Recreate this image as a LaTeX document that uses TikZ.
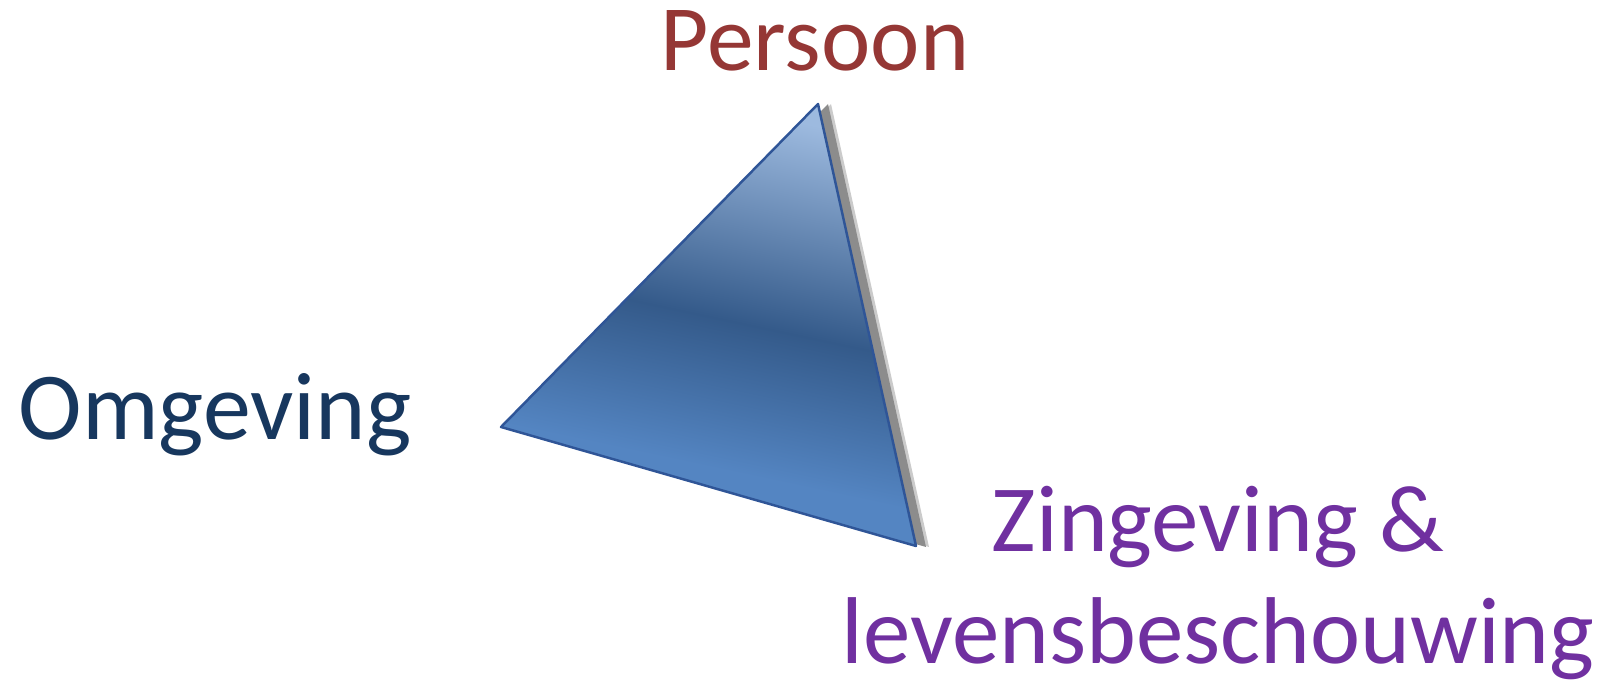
\documentclass[tikz,border=0pt]{standalone}
\usepackage{fontspec}
\setmainfont{Carlito}
\usepackage{xcolor}
\usepackage{tikz}
\usetikzlibrary{positioning,calc}
\definecolor{brickred}{HTML}{953735}
\definecolor{navytext}{HTML}{17375E}
\definecolor{plum}{HTML}{7030A0}
\definecolor{edgeblue}{HTML}{2F5597}
\definecolor{lightblue}{HTML}{9DBADF}
\definecolor{deepblue}{HTML}{345A8A}
\definecolor{midblue}{HTML}{5485C2}
\definecolor{shadowgrey}{HTML}{8C8C8C}
\pgfdeclareverticalshading{trishade}{100bp}{color(0bp)=(midblue); color(34bp)=(midblue);
  color(51bp)=(deepblue); color(75bp)=(lightblue); color(100bp)=(lightblue)}
\tikzset{
    every picture/.style={line cap=round,line join=round},
    cornerlabel/.style={inner sep=0pt,outer sep=0pt,anchor=base,align=center},
    triface/.style={shading=trishade,shading angle=-12},
    triedge/.style={draw=edgeblue,line width=0.7pt},
    trishadow/.style={fill=shadowgrey,draw=none}
}
\begin{document}
\begin{tikzpicture}
  \useasboundingbox (0,0) rectangle (16.09,6.81);
  % corners of the triangle
  \coordinate (top) at (8.18,5.77);
  \coordinate (left) at (5.01,2.54);
  \coordinate (right) at (9.16,1.35);
  % soft shadow, then the face
  \fill[trishadow,opacity=0.45] ($(top)+(0.13,0)$) -- ($(left)+(0.13,-0.01)$) -- ($(right)+(0.13,-0.01)$) -- cycle;
  \fill[trishadow] ($(top)+(0.10,0)$) -- ($(left)+(0.10,-0.01)$) -- ($(right)+(0.10,-0.01)$) -- cycle;
  \shade[triface] (top) -- (left) -- (right) -- cycle;
  \draw[triedge] (top) -- (left) -- (right) -- cycle;
  % labels
  \node[cornerlabel,text=brickred,font=\fontsize{26.6}{32}\selectfont] (persoon) at (8.15,6.10) {Persoon};
  \node[cornerlabel,text=navytext,font=\fontsize{27.3}{33}\selectfont] (omgeving) at (2.15,2.42) {Omgeving};
  \node[cornerlabel,text=plum,font=\fontsize{27}{31.6}\selectfont] (zingeving) at (12.18,0.18)
    {Zingeving \&\\levensbeschouwing};
\end{tikzpicture}
\end{document}
